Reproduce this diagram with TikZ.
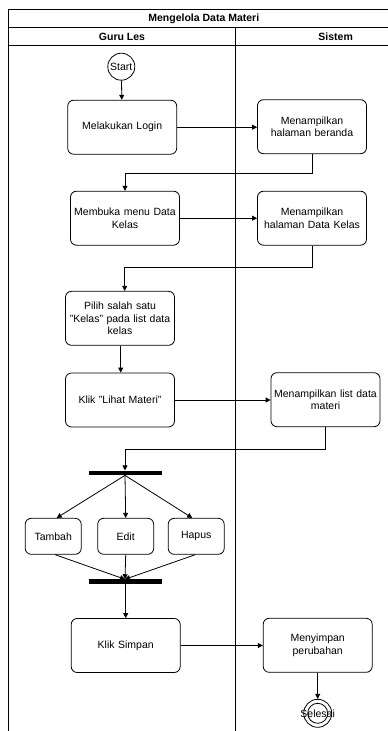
\documentclass[tikz,border=0pt]{standalone}
\usepackage{fontspec}
\setmainfont{Liberation Sans}
\usetikzlibrary{arrows.meta,calc}
\begin{document}
\begin{tikzpicture}[x=1pt,y=-1pt,
  every node/.style={font=\fontsize{10.5}{12.5}\selectfont},
  act/.style={draw,rounded corners=6pt,line width=0.8pt,align=center,inner sep=1pt},
  bigact/.style={act,minimum width=109pt,minimum height=54pt,text width=107pt},
  smallact/.style={act,minimum width=56pt,minimum height=36pt},
  bar/.style={fill=black,draw=none,minimum width=73pt,minimum height=4.5pt,inner sep=0pt},
  flow/.style={line width=0.8pt,-{Triangle[length=5pt,width=5pt]}},
  lane/.style={line width=0.8pt},
  hdr/.style={font=\fontsize{10.5}{12.5}\selectfont\bfseries}]
\useasboundingbox (0,0) rectangle (388,731);
\fill[white] (0,0) rectangle (388,731);

% swimlane frame
\begin{scope}
\clip (0,0) rectangle (388,731);
\draw[lane] (8,9.3) -- (420,9.3);
\draw[lane] (8,27.7) -- (420,27.7);
\draw[lane] (8,45) -- (420,45);
\draw[lane] (8,9.3) -- (8,740);
\draw[lane] (235.7,27.7) -- (235.7,740);
\end{scope}
\node[hdr] (title) at (203.8,18.5) {Mengelola Data Materi};
\node[hdr] (laneA) at (122,36.4) {Guru Les};
\node[hdr] (laneB) at (335.7,36.4) {Sistem};

% activities
\node[draw,circle,line width=0.8pt,minimum size=27pt,inner sep=0pt] (start) at (121.3,66.7) {Start};
\node[bigact] (login) at (122.2,127.2) {Melakukan Login};
\node[bigact] (beranda) at (312,126.7) {Menampilkan\\halaman beranda};
\node[bigact] (membuka) at (125,218.2) {Membuka menu Data\\Kelas};
\node[bigact] (datakelas) at (312,218.2) {Menampilkan\\halaman Data Kelas};
\node[bigact] (pilih) at (120,318.3) {Pilih salah satu\\"Kelas" pada list data\\kelas};
\node[bigact] (lihat) at (120,400) {Klik "Lihat Materi"};
\node[bigact] (list) at (325.5,399.7) {Menampilkan list data\\materi};
\node[bar] (fork) at (125.8,472.9) {};
\node[smallact] (tambah) at (53.2,536.3) {Tambah};
\node[smallact] (edit) at (125.7,536.3) {Edit};
\node[smallact] (hapus) at (196.2,536.3) {Hapus};
\node[bar] (join) at (125.8,581.7) {};
\node[bigact] (simpan) at (125.7,645.5) {Klik Simpan};
\node[bigact] (menyimpan) at (317.7,645.3) {Menyimpan\\perubahan};
\node[draw,circle,line width=0.8pt,minimum size=28pt,inner sep=0pt] (selesai) at (317.7,713.3) {};
\node[draw,circle,line width=0.8pt,minimum size=20pt,inner sep=0pt] (selesaiIn) at (selesai) {};
\node (selesaiTxt) at (selesai) {Selesai};

% control flow
\draw[flow] (start) -- (login);
\draw[flow] (login) -- (login -| beranda.west);
\draw[flow] (beranda.south) -- ++(0,19.4) -| (membuka.north);
\draw[flow] (membuka) -- (membuka -| datakelas.west);
\draw[flow] (datakelas.south) -- ++(0,21.3) -| ([xshift=4.7pt]pilih.north);
\draw[flow] ([xshift=0.7pt]pilih.south) -- ([xshift=0.7pt]lihat.north);
\draw[flow] (lihat) -- (lihat -| list.west);
\draw[flow] (list.south) -- ++(0,22.3) -| ([xshift=-0.8pt]fork.north);
\draw[flow] ([xshift=-0.8pt]fork.south) -- ([xshift=3.5pt]tambah.north);
\draw[flow] ([xshift=-0.8pt]fork.south) -- (edit.north);
\draw[flow] ([xshift=-0.8pt]fork.south) -- ([xshift=-4pt]hapus.north);
\draw[flow] ([xshift=2pt]tambah.south) -- ([xshift=-0.8pt]join.north);
\draw[flow] (edit.south) -- ([xshift=-0.8pt]join.north);
\draw[flow] ([xshift=-1pt]hapus.south) -- ([xshift=-0.8pt]join.north);
\draw[flow] ([xshift=-0.1pt]join.south) -- (simpan.north);
\draw[flow] (simpan) -- (simpan -| menyimpan.west);
\draw[flow] (menyimpan.south) -- (selesai.north);
\end{tikzpicture}
\end{document}
